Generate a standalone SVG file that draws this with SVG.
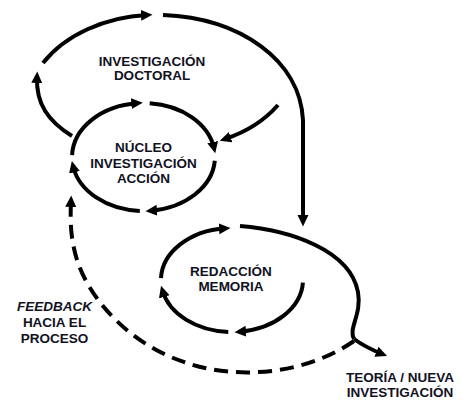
<svg xmlns="http://www.w3.org/2000/svg" width="462" height="407" viewBox="0 0 462 407">
<style>
.c{fill:none;stroke:#000;stroke-width:4;stroke-linecap:butt}
.a{marker-end:url(#ah)}
.d{stroke-dasharray:14 8}
text{font-family:"Liberation Sans",Arial,sans-serif;font-weight:bold;font-size:13.5px;fill:#111122;text-anchor:middle}
.i{font-style:italic}
</style>
<defs>
<marker id="ah" markerUnits="userSpaceOnUse" markerWidth="12" markerHeight="12" viewBox="0 0 12 12" refX="6" refY="6" orient="auto">
<path d="M0,0.5 L11.5,6 L0,11.5 z" fill="#000"/>
</marker>
</defs>
<rect width="462" height="407" fill="#fff"/>
<g id="connectors">
<!-- outer doctoral loop -->
<path class="c a" d="M43,63 C65,35 105,17 147,15"/>
<path class="c a" d="M72,136 C48,121 36,104 37,77"/>
<path class="c a" d="M163,15 C240,18 300,60 303,120 L303,221"/>
<path class="c a" d="M278,105 Q258,128 225,139"/>
<!-- nucleo ellipse cx143.5 cy157 rx71.5 ry54 -->
<path class="c a" d="M72.1,155.1 A71.5,54 0 0 1 137.3,103.2"/>
<path class="c a" d="M149.7,103.2 A71.5,54 0 0 1 214,148"/>
<path class="c a" d="M214.8,160.8 A71.5,54 0 0 1 151,210.7"/>
<path class="c a" d="M139.8,210.9 A71.5,54 0 0 1 73.1,166.4"/>
<!-- redaccion ellipse cx232 cy280 rx71 ry52 -->
<path class="c a" d="M161,278.2 A71,52 0 0 1 225,228.3"/>
<path class="c a" d="M302.9,282.7 A71,52 0 0 1 240,331.7"/>
<path class="c a" d="M228.3,331.9 A71,52 0 0 1 162.6,291"/>
<path class="c" d="M240,226 C290,230 350,250 358,292 C362,315 348,328 354,339"/>
<path class="c a" d="M354,339 Q365,347 382,354"/>
<!-- feedback -->
<path class="c d a" d="M354,341 C300,378 230,378 187,363 C130,345 90,300 77,260 C71,240 70,225 71,201"/>
</g>
<g id="node-doctoral">
<text x="152" y="65.5">INVESTIGACIÓN</text>
<text x="152" y="80">DOCTORAL</text>
</g>
<g id="node-nucleo">
<text x="143.5" y="152">NÚCLEO</text>
<text x="143.5" y="167.5">INVESTIGACIÓN</text>
<text x="143.5" y="183">ACCIÓN</text>
</g>
<g id="node-redaccion">
<text x="231" y="275.5">REDACCIÓN</text>
<text x="231" y="291">MEMORIA</text>
</g>
<g id="node-feedback">
<text x="54.5" y="311" class="i">FEEDBACK</text>
<text x="54.5" y="327">HACIA EL</text>
<text x="54.5" y="342.5">PROCESO</text>
</g>
<g id="node-teoria">
<text x="400" y="382">TEORÍA / NUEVA</text>
<text x="400" y="397">INVESTIGACIÓN</text>
</g>
</svg>
